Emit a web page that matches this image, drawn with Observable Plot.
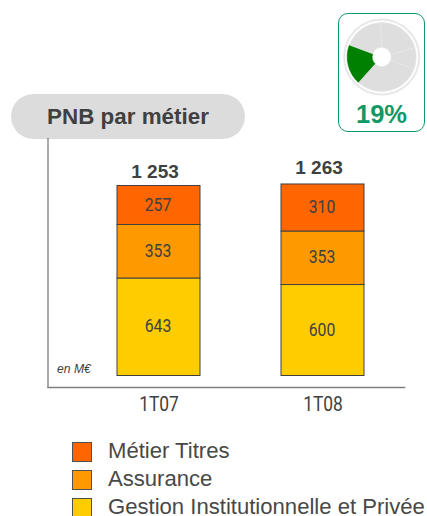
<!DOCTYPE html>
<html lang="fr">
<head>
<meta charset="utf-8">
<script src="https://cdn.jsdelivr.net/npm/d3@7"></script>
<script src="https://cdn.jsdelivr.net/npm/@observablehq/plot@0.6"></script>
<style>
html,body{margin:0;padding:0;background:#fff;overflow:hidden;width:427px;height:516px;font-family:"Liberation Sans",Arial,sans-serif;color:#404040}
#wrap{position:relative;width:427px;height:516px;overflow:hidden}
#chart{position:absolute;left:0;top:0}
#pill{position:absolute;left:11px;top:94px;width:234px;height:45px;border-radius:22.5px;background:#dcdcdc;font-weight:700;font-size:22.4px;line-height:45px;text-align:center;box-sizing:border-box}
#card{position:absolute;left:338px;top:13px;width:87px;height:119px;box-sizing:border-box;border:1.5px solid #0f9966;border-radius:10px;background:none;text-align:center}
#pct{position:absolute;left:0;right:0;top:85px;font-weight:700;font-size:25.5px;line-height:30px;color:#0f9966}
#unit{position:absolute;left:57px;top:362px;font-style:italic;font-size:12.2px;line-height:14px}
.lg{position:absolute;left:71.5px;width:20px;height:20px;box-sizing:border-box;border:1px solid #505050}
.lt{position:absolute;left:108px;font-size:22.1px;line-height:24px;white-space:nowrap;color:#484848}
</style>
</head>
<body>
<div id="wrap"></div>
<script>
const periods = ["1T07", "1T08"];
const metiers = ["Gestion Institutionnelle et Privée", "Assurance", "Métier Titres"];
const colors = ["#ffcc00", "#ff9900", "#ff6600"];
const gestion = [643, 600];
const assurance = [353, 353];
const titres = [257, 310];
const totals = [1253, 1263];
const totalLabels = ["1 253", "1 263"];
const legendOrder = ["Métier Titres", "Assurance", "Gestion Institutionnelle et Privée"];
const donutShares = [19, 19, 21, 10, 31];
const donutLabel = "19%";
const titleText = "PNB par métier";
const unitText = "en M€";

const rows = periods.flatMap((p, i) => [
  {period: p, metier: metiers[0], value: gestion[i]},
  {period: p, metier: metiers[1], value: assurance[i]},
  {period: p, metier: metiers[2], value: titres[i]}
]);
const totalRows = periods.map((p, i) => ({period: p, total: totals[i], label: totalLabels[i]}));
const digitFont = "Roboto, sans-serif";

function donut() {
  const g = d3.create("svg:g").attr("transform", "translate(381.7,57)");
  g.append("circle").attr("r", 37.5).attr("fill", "#fff").attr("stroke", "#e8e8e8").attr("stroke-width", 2);
  const arcs = d3.pie().sort(null).startAngle(222 * Math.PI / 180).endAngle((222 + 360) * Math.PI / 180)(donutShares);
  const arc = d3.arc().innerRadius(9.5).outerRadius(34.5);
  g.selectAll("path").data(arcs).join("path")
    .attr("d", arc)
    .attr("fill", (d, i) => i === 0 ? "#008000" : "#dedede")
    .attr("stroke", (d, i) => i === 0 ? "#008000" : "#e8e8e8")
    .attr("stroke-width", 0.6);
  return g.node();
}

const chart = Plot.plot({
  width: 427,
  height: 420,
  marginLeft: 47.5,
  marginRight: 23,
  marginTop: 138,
  marginBottom: 33,
  style: {background: "transparent"},
  x: {domain: periods, range: [35, 445], padding: 0.495, label: null},
  y: {domain: [0, 1253], range: [375.5, 185.5], axis: null, label: null},
  color: {domain: metiers, range: colors},
  marks: [
    Plot.frame({anchor: "left", stroke: "#555", strokeWidth: 1}),
    Plot.frame({anchor: "bottom", stroke: "#808080", strokeWidth: 1.5}),
    Plot.axisX({anchor: "bottom", tickSize: 0, tickPadding: 9, fontSize: 20, fontFamily: digitFont, fill: "#404040", label: null, className: "tight-axis"}),
    Plot.barY(rows, {x: "period", y: "value", fill: "metier", z: "metier", order: metiers, stroke: "#404040", strokeWidth: 1}),
    Plot.text(rows, Plot.stackY({x: "period", y: "value", z: "metier", order: metiers, text: d => String(d.value), dy: -1, dx: -1, fontSize: 19, fontFamily: digitFont, fill: "#404040", className: "tight-value"})),
    Plot.text(totalRows.filter(d => d.period === periods[0]), {x: "period", y: "total", text: "label", dx: -4, dy: -14, fontSize: 19, fontWeight: 700, fontFamily: "Liberation Sans", fill: "#404040"}),
    Plot.text(totalRows.filter(d => d.period === periods[1]), {x: "period", y: "total", text: "label", dx: -4, dy: -17, fontSize: 19, fontWeight: 700, fontFamily: "Liberation Sans", fill: "#404040"}),
    donut
  ]
});
chart.id = "chart";
const wrap = document.getElementById("wrap");

const pill = document.createElement("div");
pill.id = "pill"; pill.textContent = titleText;
wrap.appendChild(pill);
wrap.appendChild(chart);

const card = document.createElement("div");
card.id = "card";
const pct = document.createElement("div");
pct.id = "pct"; pct.textContent = donutLabel;
card.appendChild(pct);
wrap.appendChild(card);

const unit = document.createElement("div");
unit.id = "unit"; unit.textContent = unitText;
wrap.appendChild(unit);

legendOrder.forEach((name, i) => {
  const top = 441.5 + i * 28.2;
  const sw = document.createElement("div");
  sw.className = "lg";
  sw.style.top = top + "px";
  sw.style.background = colors[metiers.indexOf(name)];
  wrap.appendChild(sw);
  const t = document.createElement("div");
  t.className = "lt";
  t.style.top = (top - 3) + "px";
  t.textContent = name;
  wrap.appendChild(t);
});

// Condense the digit labels: no condensed face is installed.
function condense(selector, factor) {
  chart.querySelectorAll(selector + " text").forEach(el => {
    el.setAttribute("textLength", el.getComputedTextLength() * factor);
    el.setAttribute("lengthAdjust", "spacingAndGlyphs");
  });
}
condense(".tight-axis", 0.87);
condense(".tight-value", 0.83);
</script>
</body>
</html>
